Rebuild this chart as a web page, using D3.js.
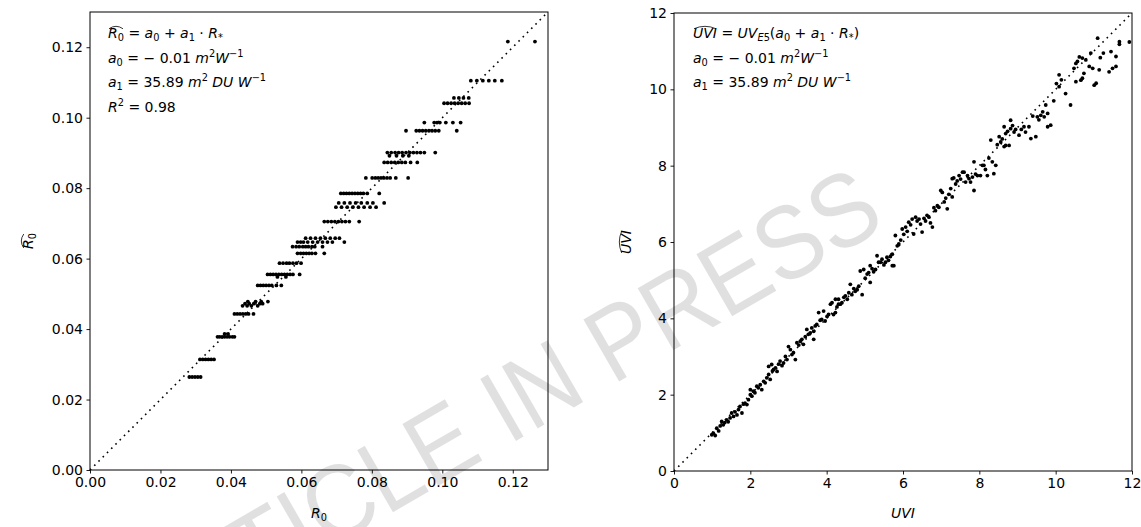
<!DOCTYPE html>
<html>
<head>
<meta charset="utf-8">
<script src="https://cdn.jsdelivr.net/npm/d3@7"></script>
<style>
  body { margin: 0; background: #fff; }
  svg text { font-family: "DejaVu Sans", sans-serif; fill: #000; }
</style>
</head>
<body>
<svg id="chart" width="1141" height="527"></svg>
<script>
// ---- data ----
// left panel: estimated R0 levels (horizontal streaks) and the observed R0 values on each
const r0EstLevels = [0.0264, 0.0314, 0.0378, 0.0386, 0.0443, 0.0466, 0.0472, 0.0478, 0.0524, 0.0548,
  0.0555, 0.0587, 0.0615, 0.0634, 0.0647, 0.0658, 0.0705, 0.0746, 0.0758, 0.0785, 0.0829, 0.0873,
  0.0892, 0.0901, 0.0963, 0.0986, 0.1041, 0.1056, 0.1105, 0.1216];
const r0ObsByLevel = [
  [0.0282, 0.029, 0.0298, 0.0306, 0.0314],
  [0.0312, 0.032, 0.0328, 0.0336, 0.0344, 0.0352],
  [0.0362, 0.0368, 0.0375, 0.0382, 0.0389, 0.0396, 0.0404, 0.041],
  [0.0382, 0.0392],
  [0.041, 0.0418, 0.0426, 0.0434, 0.0442, 0.045, 0.0464],
  [0.0433, 0.0446, 0.0458, 0.0476],
  [0.044, 0.0452, 0.0465, 0.0482, 0.049],
  [0.0448, 0.047, 0.0486, 0.0505],
  [0.0476, 0.0484, 0.0492, 0.05, 0.0508, 0.0516, 0.0529, 0.0543],
  [0.0532, 0.0556],
  [0.0504, 0.0512, 0.052, 0.0528, 0.0536, 0.0544, 0.0552, 0.056, 0.0568, 0.0576, 0.0595],
  [0.0538, 0.0548, 0.0558, 0.0566, 0.0576, 0.0586, 0.0599],
  [0.0589, 0.0598, 0.0606, 0.0614, 0.0622, 0.063, 0.064, 0.0665],
  [0.0575, 0.0585, 0.0594, 0.0604, 0.0612, 0.062, 0.063, 0.0638, 0.066],
  [0.0589, 0.0598, 0.0606, 0.0618, 0.0632, 0.0646, 0.066, 0.0674, 0.0688, 0.0722],
  [0.0612, 0.0626, 0.064, 0.0654, 0.0668, 0.0682, 0.0696, 0.0708],
  [0.0665, 0.0675, 0.0685, 0.0695, 0.0705, 0.0715, 0.0725, 0.0736, 0.0764],
  [0.0698, 0.0714, 0.073, 0.0746, 0.0762, 0.0778, 0.0795, 0.0812],
  [0.0706, 0.0722, 0.0738, 0.0754, 0.077, 0.0787, 0.0803, 0.0835],
  [0.0712, 0.072, 0.0728, 0.0736, 0.0744, 0.0752, 0.076, 0.0768, 0.0776, 0.0787, 0.0821],
  [0.0783, 0.0801, 0.081, 0.0818, 0.0826, 0.0834, 0.0843, 0.0852, 0.0868, 0.0903],
  [0.0835, 0.0845, 0.0855, 0.0865, 0.0875, 0.0885, 0.0895, 0.091, 0.0929],
  [0.085, 0.087, 0.0888, 0.0905],
  [0.0844, 0.0855, 0.0866, 0.0876, 0.0886, 0.0897, 0.0908, 0.0918, 0.0928, 0.0938, 0.0949, 0.098],
  [0.0897, 0.0926, 0.0935, 0.0944, 0.0953, 0.0962, 0.0971, 0.098, 0.099, 0.1041],
  [0.0949, 0.0977, 0.0985, 0.0993, 0.101, 0.103, 0.1052],
  [0.1005, 0.1015, 0.1025, 0.1035, 0.1045, 0.1055, 0.1065, 0.1076],
  [0.1033, 0.1047, 0.106, 0.1075],
  [0.1081, 0.1098, 0.1115, 0.1132, 0.1149, 0.1169],
  [0.1186, 0.1263]
];
const r0Ticks = [0, 0.02, 0.04, 0.06, 0.08, 0.10, 0.12];

// right panel: observed UVI vs estimated UVI
const uviObs = [0.99,1.03,1.08,1.12,1.17,1.21,1.25,1.29,1.33,1.38,1.42,1.47,1.51,1.56,1.6,1.65,1.69,1.73,1.78,1.82,
  1.86,1.91,1.95,2.0,2.0,2.04,2.08,2.12,2.17,2.21,2.26,2.3,2.35,2.39,2.43,2.48,2.48,2.52,2.56,2.58,
  2.61,2.66,2.7,2.74,2.78,2.83,2.87,2.92,2.96,3.0,3.05,3.09,3.13,3.18,3.22,3.27,3.31,3.35,3.39,3.44,
  3.48,3.52,3.57,3.61,3.66,3.66,3.7,3.74,3.79,3.83,3.87,3.92,3.96,4.01,4.05,4.1,4.14,4.18,4.23,4.23,
  4.27,4.31,4.31,4.36,4.4,4.45,4.49,4.54,4.58,4.62,4.66,4.71,4.75,4.8,4.84,4.88,4.93,4.97,5.01,5.06,
  5.1,5.14,5.14,5.19,5.23,5.28,5.32,5.36,5.41,5.45,5.5,5.54,5.58,5.62,5.67,5.72,5.72,5.76,5.8,5.85,
  5.89,5.94,5.98,6.02,6.07,6.11,6.15,6.2,6.24,6.28,6.33,6.37,6.42,6.46,6.5,6.55,6.59,6.63,6.68,6.72,
  6.77,6.81,6.85,6.9,6.94,6.99,7.03,7.08,7.12,7.16,7.2,7.25,7.29,7.29,7.33,7.38,7.42,7.47,7.51,7.56,
  7.6,7.64,7.69,7.73,7.77,7.82,7.86,7.86,7.9,7.95,8.03,8.08,8.12,8.16,8.21,8.25,8.3,8.34,8.38,8.43,
  8.47,8.52,8.56,8.6,8.65,8.65,8.69,8.69,8.74,8.78,8.82,8.82,8.87,8.91,8.95,9.04,9.1,9.17,9.21,9.3,
  9.35,9.4,9.48,9.52,9.56,9.61,9.66,9.7,9.74,9.79,9.79,9.87,9.95,10.02,10.09,10.09,10.15,10.26,10.39,10.48,
  10.53,10.53,10.57,10.62,10.66,10.7,10.7,10.74,10.79,10.88,10.92,10.97,11.01,11.06,11.1,11.14,11.17,11.25,11.4,11.45,
  11.49,11.58,11.58,11.67,11.67,11.93];
const uviEst = [0.95,0.99,0.93,1.12,1.05,1.18,1.3,1.21,1.27,1.34,1.29,1.39,1.52,1.43,1.55,1.47,1.61,1.69,1.52,1.75,
  1.78,1.74,1.87,2.0,2.13,1.96,2.09,2.05,2.22,2.18,2.26,2.13,2.35,2.31,2.44,2.53,2.74,2.4,2.79,2.62,
  2.66,2.7,2.61,2.8,2.88,2.76,2.83,3.0,2.92,3.26,3.18,3.05,3.1,2.92,3.36,3.3,3.4,3.45,3.32,3.52,
  3.71,3.58,3.62,3.75,3.66,3.45,3.8,3.84,4.15,3.95,3.97,4.19,3.93,4.05,4.1,4.37,4.41,4.1,4.15,4.5,
  4.3,4.37,4.5,4.37,4.41,4.55,4.59,4.5,4.67,4.89,4.62,4.78,4.71,4.75,4.84,5.24,4.62,5.28,5.05,5.16,
  5.2,4.94,5.38,5.3,5.22,5.28,5.64,5.47,5.47,5.55,5.4,5.47,5.6,5.52,5.62,5.68,5.38,5.38,6.17,5.9,
  5.95,6.05,6.34,6.2,6.39,6.28,6.52,6.45,6.6,6.21,6.65,6.55,6.6,6.47,6.26,6.62,6.55,6.7,6.65,6.5,
  6.39,6.9,6.82,6.95,6.91,7.35,7.3,7.05,7.15,6.87,7.25,7.4,7.18,7.66,7.68,7.52,7.6,7.74,7.65,7.83,
  7.83,7.57,7.74,7.66,7.57,7.7,7.35,8.1,7.78,7.74,7.74,8.01,8.01,7.9,7.74,8.2,8.67,8.1,7.79,8.01,
  8.55,8.76,8.62,8.7,9.02,8.5,8.84,8.53,8.9,8.53,9.19,8.97,9.05,8.88,8.95,8.8,8.95,9.02,8.88,9.02,
  8.71,9.3,8.76,9.28,9.2,9.32,9.41,9.28,9.59,9.37,9.02,9.06,9.7,10.15,10.38,10.07,10.25,9.89,9.59,10.55,
  10.68,10.2,10.73,10.85,10.24,10.82,10.29,10.42,10.77,10.6,10.95,10.55,10.11,10.16,11.34,10.51,10.83,10.95,10.46,10.99,
  10.55,10.86,10.6,11.25,11.18,11.24];
const uviTicks = [0, 2, 4, 6, 8, 10, 12];

// ---- layout ----
const svg = d3.select("#chart");
const size = 458;
const panels = [
  { left: 90, top: 12, max: 0.13, ticks: r0Ticks, fmt: d3.format(".2f") },
  { left: 674, top: 13, max: 12, ticks: uviTicks, fmt: d3.format("d") }
];

// text with italic / sub / superscript runs
function rich(parent, x, y, segs, fs, anchor) {
  const t = parent.append("text").attr("x", x).attr("y", y)
    .style("font-size", fs + "px").attr("text-anchor", anchor || "start");
  let shift = 0;
  segs.forEach(s => {
    const target = s.sub ? fs * 0.24 : s.sup ? -fs * 0.4 : 0;
    t.append("tspan")
      .attr("dy", target - shift)
      .style("font-style", s.it ? "italic" : "normal")
      .style("font-size", (s.sub || s.sup) ? (fs * 0.7) + "px" : null)
      .text(s.t);
    shift = target;
  });
  return t;
}
// wide hat over characters i0..i1 of a text node
function hat(parent, textSel, i0, i1, fs) {
  const n = textSel.node();
  const a = n.getStartPositionOfChar(i0), b = n.getEndPositionOfChar(i1);
  const y = a.y - fs * 0.82;
  parent.append("path")
    .attr("d", `M${a.x + 1},${y + 2.2} Q${(a.x + b.x) / 2},${y - 2.6} ${b.x - 1},${y + 2.2}`)
    .attr("fill", "none").attr("stroke", "#000").attr("stroke-width", 0.8);
}

const scales = panels.map(p => {
  const x = d3.scaleLinear().domain([0, p.max]).range([p.left, p.left + size]);
  const y = d3.scaleLinear().domain([0, p.max]).range([p.top + size, p.top]);
  return { x, y };
});

panels.forEach((p, i) => {
  const { x, y } = scales[i];
  const xAxis = svg.append("g").attr("transform", `translate(0,${p.top + size})`)
    .call(d3.axisBottom(x).tickValues(p.ticks).tickFormat(p.fmt).tickSizeOuter(0).tickSize(3.5).tickPadding(3.5));
  const yAxis = svg.append("g").attr("transform", `translate(${p.left},0)`)
    .call(d3.axisLeft(y).tickValues(p.ticks).tickFormat(p.fmt).tickSizeOuter(0).tickSize(3.5).tickPadding(3.5));
  [xAxis, yAxis].forEach(ax => {
    ax.select(".domain").remove();
    ax.selectAll("text").style("font-size", "14px").attr("fill", "#000").style("font-family", "DejaVu Sans");
    ax.selectAll("line").attr("stroke", "#000").attr("stroke-width", 0.9);
  });

  // 1:1 dotted line
  svg.append("line")
    .attr("x1", x(0)).attr("y1", y(0)).attr("x2", x(p.max)).attr("y2", y(p.max))
    .attr("stroke", "#000").attr("stroke-width", 1.6).attr("stroke-dasharray", "1.6,4.4");
});

// points
const r0Points = [];
r0EstLevels.forEach((lv, k) => r0ObsByLevel[k].forEach(v => r0Points.push([v, lv])));
svg.append("g").selectAll("circle").data(r0Points).join("circle")
  .attr("cx", d => scales[0].x(d[0])).attr("cy", d => scales[0].y(d[1])).attr("r", 1.9).attr("fill", "#000");

svg.append("g").selectAll("circle").data(uviObs).join("circle")
  .attr("cx", d => scales[1].x(d)).attr("cy", (d, i) => scales[1].y(uviEst[i])).attr("r", 1.9).attr("fill", "#000");

// frames
panels.forEach(p => {
  svg.append("rect").attr("x", p.left).attr("y", p.top).attr("width", size).attr("height", size)
    .attr("fill", "none").attr("stroke", "#000").attr("stroke-width", 1);
});

// annotations
const af = 14;
let t1 = rich(svg, 108, 38, [{ t: "R", it: 1 }, { t: "0", sub: 1 }, { t: " = " }, { t: "a", it: 1 }, { t: "0", sub: 1 },
  { t: " + " }, { t: "a", it: 1 }, { t: "1", sub: 1 }, { t: " · " }, { t: "R", it: 1 }, { t: "*", sub: 1 }], af);
hat(svg, t1, 0, 1, af);
rich(svg, 108, 62.5, [{ t: "a", it: 1 }, { t: "0", sub: 1 }, { t: " = − 0.01 " }, { t: "m", it: 1 }, { t: "2", sup: 1 },
  { t: "W", it: 1 }, { t: "−1", sup: 1 }], af);
rich(svg, 108, 87, [{ t: "a", it: 1 }, { t: "1", sub: 1 }, { t: " = 35.89 " }, { t: "m", it: 1 }, { t: "2", sup: 1 },
  { t: " DU W", it: 1 }, { t: "−1", sup: 1 }], af);
rich(svg, 108, 111.5, [{ t: "R", it: 1 }, { t: "2", sup: 1 }, { t: " = 0.98" }], af);

let t2 = rich(svg, 693, 38, [{ t: "UVI", it: 1 }, { t: " = " }, { t: "UV", it: 1 }, { t: "E", sub: 1, it: 1 }, { t: "5", sub: 1 },
  { t: "(" }, { t: "a", it: 1 }, { t: "0", sub: 1 }, { t: " + " }, { t: "a", it: 1 }, { t: "1", sub: 1 }, { t: " · " },
  { t: "R", it: 1 }, { t: "*", sub: 1 }, { t: ")" }], af);
hat(svg, t2, 0, 2, af);
rich(svg, 693, 62.5, [{ t: "a", it: 1 }, { t: "0", sub: 1 }, { t: " = − 0.01 " }, { t: "m", it: 1 }, { t: "2", sup: 1 },
  { t: "W", it: 1 }, { t: "−1", sup: 1 }], af);
rich(svg, 693, 87, [{ t: "a", it: 1 }, { t: "1", sub: 1 }, { t: " = 35.89 " }, { t: "m", it: 1 }, { t: "2", sup: 1 },
  { t: " DU W", it: 1 }, { t: "−1", sup: 1 }], af);

// axis labels
rich(svg, 319, 518, [{ t: "R", it: 1 }, { t: "0", sub: 1 }], 14, "middle");
rich(svg, 903, 518, [{ t: "UVI", it: 1 }], 14, "middle");
const yl1 = svg.append("g").attr("transform", "translate(33,241) rotate(-90)");
const l1 = rich(yl1, 0, 0, [{ t: "R", it: 1 }, { t: "0", sub: 1 }], 14, "middle");
hat(yl1, l1, 0, 1, 14);
const yl2 = svg.append("g").attr("transform", "translate(631,242) rotate(-90)");
const l2 = rich(yl2, 0, 0, [{ t: "UVI", it: 1 }], 14, "middle");
hat(yl2, l2, 0, 2, 14);

// watermark
svg.append("text")
  .attr("transform", "translate(516,441) rotate(-30)")
  .attr("text-anchor", "middle")
  .attr("textLength", 860).attr("lengthAdjust", "spacingAndGlyphs")
  .style("font-family", "Liberation Sans, Arial, sans-serif")
  .style("font-size", "104px")
  .style("fill", "#000").style("fill-opacity", 0.12)
  .text("ARTICLE IN PRESS");
</script>
</body>
</html>
